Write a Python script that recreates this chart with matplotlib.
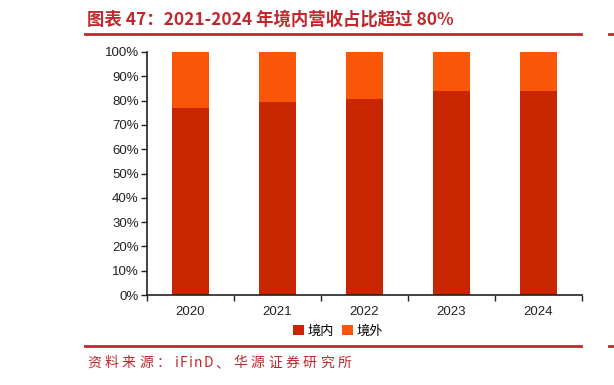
import matplotlib
matplotlib.use("Agg")
import matplotlib.pyplot as plt
from matplotlib.lines import Line2D
from matplotlib.ticker import FixedLocator, PercentFormatter

plt.rcParams['font.family'] = ['Liberation Sans', 'Noto Sans CJK SC', 'DejaVu Sans']

years = ["2020", "2021", "2022", "2023", "2024"]
domestic = [0.768, 0.796, 0.808, 0.841, 0.838]
foreign = [1 - d for d in domestic]
series_names = ["境内", "境外"]
title = "图表 47：2021-2024 年境内营收占比超过 80%"
source = "资料来源：iFinD、华源证券研究所"

c_dom = "#C82600"
c_for = "#FA560A"
red = "#C0282D"
W, H = 614, 385

fig = plt.figure(figsize=(6.14, 3.85), dpi=100)
ax = fig.add_axes([147/W, 1-295/H, 435/W, 243/H])

x = list(range(len(years)))
ax.bar(x, domestic, width=0.43, color=c_dom, label=series_names[0])
ax.bar(x, foreign, width=0.43, bottom=domestic, color=c_for, label=series_names[1])

ax.set_xlim(-0.5, len(years) - 0.5)
ax.set_ylim(0, 1)
ax.set_yticks([i / 10 for i in range(11)])
ax.yaxis.set_major_formatter(PercentFormatter(1.0, decimals=0))
ax.set_xticks(x)
ax.set_xticklabels(years)
ax.xaxis.set_minor_locator(FixedLocator([i - 0.5 for i in range(len(years) + 1)]))
ax.tick_params(axis='x', which='major', length=0, pad=8, labelsize=9.5, colors='#222222')
ax.tick_params(axis='x', which='minor', length=4, direction='out', width=1, color='#222222')
ax.tick_params(axis='y', length=4, direction='out', width=1, labelsize=9.5, pad=2, colors='#222222')
for s in ['top', 'right']:
    ax.spines[s].set_visible(False)
for s in ['left', 'bottom']:
    ax.spines[s].set_linewidth(1.2)
    ax.spines[s].set_color('#222222')

leg = ax.legend(loc='upper center', bbox_to_anchor=(0.44, -0.1), ncol=2, frameon=False,
                fontsize=9.5, handlelength=0.8, handleheight=0.8, handletextpad=0.3,
                columnspacing=0.6, borderaxespad=0)
for t in leg.get_texts():
    t.set_family(['Noto Sans CJK SC', 'DejaVu Sans'])

cjk = ['Noto Sans CJK SC', 'DejaVu Sans']
fig.text(87/W, 1-20/H, title, color=red, fontsize=12.5, fontweight='bold',
         va='center', ha='left', family=cjk)
for yy in (34, 346):
    fig.add_artist(Line2D([85/W, 581/W], [1-yy/H, 1-yy/H], color=red, lw=2))
    fig.add_artist(Line2D([609/W, 1.0], [1-yy/H, 1-yy/H], color=red, lw=2))

# source line drawn with the reference's wide, fixed character spacing
latin_adv = {'i': 5.0, 'F': 9.5, 'n': 9.5, 'D': 12.0}
px = 87.0
for ch in source:
    fig.text(px/W, 1-363/H, ch, color=red, fontsize=10, fontweight='light',
             va='center', ha='left', family=cjk)
    px += latin_adv.get(ch, 17.5)

fig.savefig("out.png", dpi=100)
